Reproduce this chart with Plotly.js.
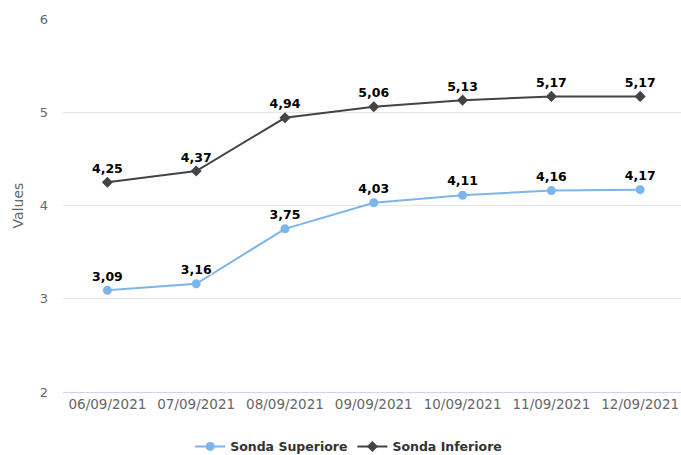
<!DOCTYPE html>
<html>
<head>
<meta charset="utf-8">
<script src="https://cdn.plot.ly/plotly-3.0.1.min.js"></script>
<style>html,body{margin:0;padding:0;background:#fff;}#chart{width:681px;height:455px;}</style>
</head>
<body>
<div id="chart"></div>
<script>
const categories = ["06/09/2021","07/09/2021","08/09/2021","09/09/2021","10/09/2021","11/09/2021","12/09/2021"];
const sondaSuperiore = [3.09, 3.16, 3.75, 4.03, 4.11, 4.16, 4.17];
const sondaInferiore = [4.25, 4.37, 4.94, 5.06, 5.13, 5.17, 5.17];
const yTicks = [2, 3, 4, 5, 6];

const FONT = "DejaVu Sans, Verdana, sans-serif";
const labelFont = {family: FONT, size: 12.5, color: "#000000", weight: "bold",
  shadow: "1px 1px 1px #fff, -1px -1px 1px #fff, 1px -1px 1px #fff, -1px 1px 1px #fff"};

const traces = [
  {
    x: categories, y: sondaSuperiore, name: "Sonda Superiore", type: "scatter",
    mode: "lines+markers+text",
    line: {color: "#7cb5ec", width: 2},
    marker: {color: "#7cb5ec", size: 9, symbol: "circle"},
    texttemplate: "%{y:.2f}", textposition: "top center", textfont: labelFont,
    hoverinfo: "x+y"
  },
  {
    x: categories, y: sondaInferiore, name: "Sonda Inferiore", type: "scatter",
    mode: "lines+markers+text",
    line: {color: "#434348", width: 2},
    marker: {color: "#434348", size: 8.5, symbol: "diamond"},
    texttemplate: "%{y:.2f}", textposition: "top center", textfont: labelFont,
    hoverinfo: "x+y"
  }
];

const layout = {
  width: 681, height: 455,
  margin: {l: 62.5, r: 0, t: 19, b: 63},
  paper_bgcolor: "#ffffff", plot_bgcolor: "#ffffff",
  separators: ",.",
  font: {family: FONT, color: "#666666", size: 13},
  showlegend: true,
  legend: {
    orientation: "h", xref: "container", yref: "container",
    x: 0.512, y: 0.018, xanchor: "center", yanchor: "middle",
    font: {family: FONT, size: 12.5, color: "#333333", weight: "bold"},
    itemclick: false
  },
  xaxis: {
    type: "category", range: [-0.5, 6.46],
    showgrid: false, zeroline: false,
    showline: true, linecolor: "#ccd6eb", linewidth: 1,
    ticks: "", tickfont: {family: FONT, size: 13.5, color: "#666666"},
    fixedrange: true
  },
  yaxis: {
    range: [2, 6], tickvals: yTicks, ticktext: yTicks.map(String),
    showgrid: true, gridcolor: "#e6e6e6", gridwidth: 1,
    zeroline: false, showline: false, ticks: "",
    ticklabelstandoff: 14,
    tickfont: {family: FONT, size: 13, color: "#666666"},
    title: {text: "Values", font: {family: FONT, size: 14, color: "#666666"}, standoff: 12},
    fixedrange: true
  }
};

Plotly.newPlot("chart", traces, layout, {displayModeBar: false, staticPlot: true});
</script>
</body>
</html>
